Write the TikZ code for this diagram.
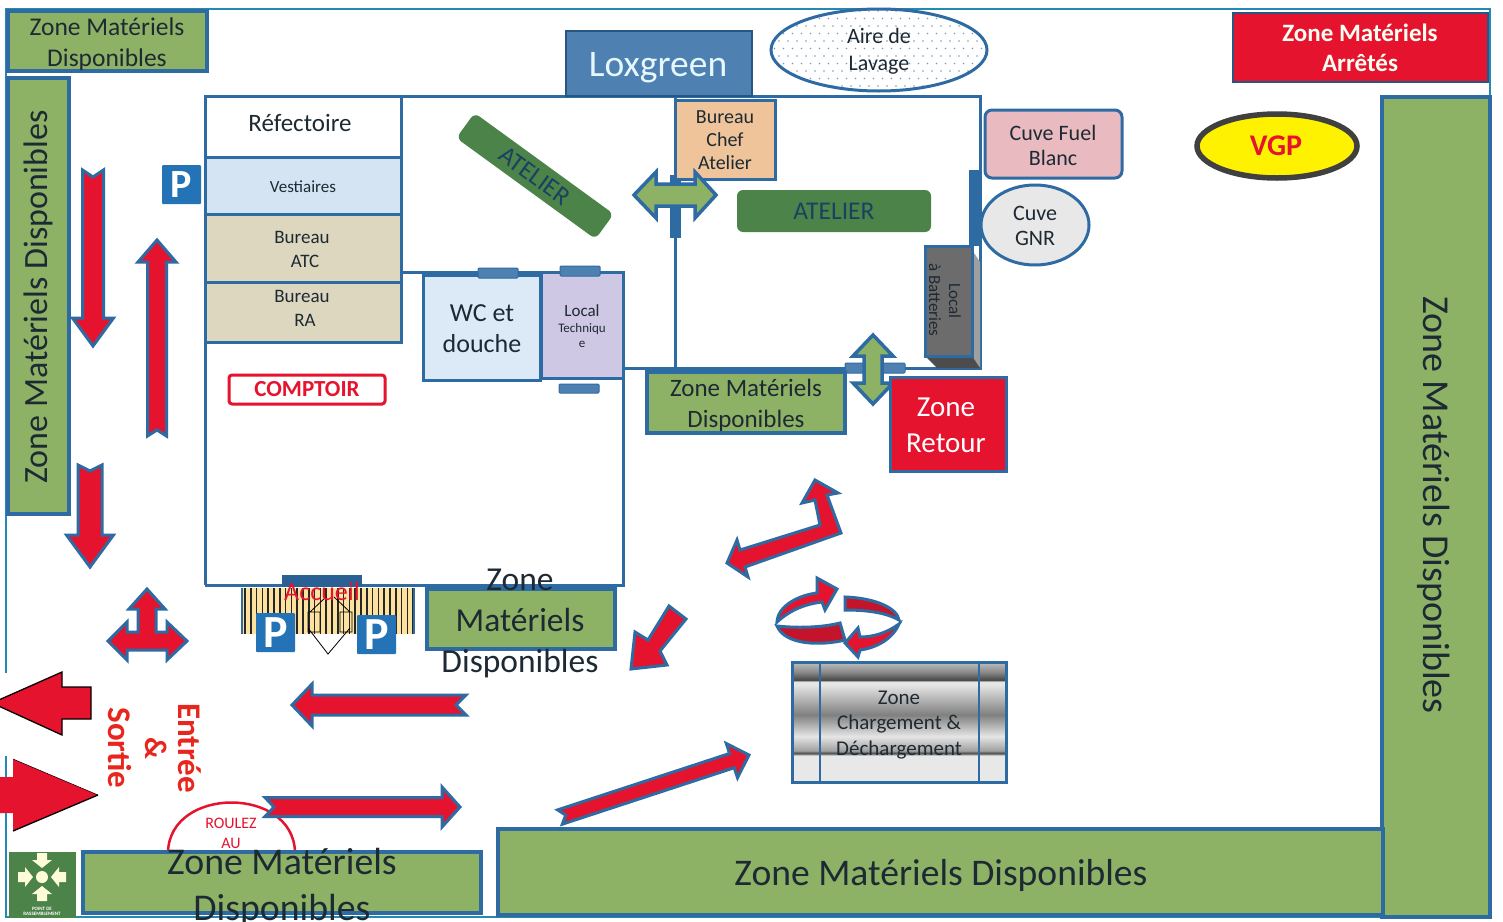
\documentclass[tikz,border=0pt]{standalone}
\usepackage{fontspec}
\setmainfont{Carlito}
\usetikzlibrary{calc}
\definecolor{bl}{HTML}{2F6BA3}
\definecolor{gz}{HTML}{8DB266}
\definecolor{dg}{HTML}{4C8349}
\definecolor{rd}{HTML}{E5132E}
\definecolor{drd}{HTML}{C4142B}
\definecolor{txt}{HTML}{1E2A33}
\definecolor{tan}{HTML}{DCD7BE}
\definecolor{vest}{HTML}{D5E4F3}
\definecolor{wcb}{HTML}{DCE9F7}
\definecolor{lav}{HTML}{CFC8E4}
\definecolor{chef}{HTML}{EFC49B}
\definecolor{pink}{HTML}{E9BBC0}
\definecolor{ent}{HTML}{E8261E}
\definecolor{pk}{HTML}{2373B6}
\newcommand{\fs}[1]{\fontsize{#1}{#1}\selectfont}
\pgfdeclareverticalshading{cargo}{100bp}{
 color(0bp)=(white!82!gray); color(36bp)=(white!82!gray); color(37bp)=(black!72);
 color(38bp)=(gray!75); color(44bp)=(white!80!gray); color(53bp)=(gray);
 color(65.5bp)=(white!80!gray); color(66.8bp)=(white!80!gray); color(67.5bp)=(black!72); color(71bp)=(gray!90); color(75bp)=(gray!50); color(100bp)=(gray!50)}
\tikzset{
 x=1pt,y=-1pt,
 every node/.style={outer sep=0pt},
 zone/.style={draw=bl,line width=3.5pt,fill=gz},
 wall/.style={draw=bl,line width=3pt},
 redarrow/.style={draw=bl,line width=3pt,fill=rd,line join=miter},
 grnarrow/.style={draw=bl,line width=3.5pt,fill=gz},
 bigarrow/.style={draw=black,line width=1.3pt,fill=rd},
 doorbar/.style={draw=bl,fill=bl!85!white,line width=1pt,rounded corners=1pt},
 lbl/.style={inner sep=0pt,align=center,text=txt},
}
% {x1,y1}{x2,y2}{shaft}{head}{headlen}{notch}
\newcommand{\blockarrow}[6]{%
 \path let \p1=(#1),\p2=(#2),\n1={atan2(\y2-\y1,\x2-\x1)},\n2={veclen(\x2-\x1,\y2-\y1)} in
  [redarrow,shift={(#1)},rotate=\n1]
  (0,#3/2) -- ({\n2-#5},#3/2) -- ({\n2-#5},#4/2) -- (\n2,0) -- ({\n2-#5},-#4/2) -- ({\n2-#5},-#3/2) -- (0,-#3/2) -- (#6,0) -- cycle;}
\newcommand{\parksign}[2]{%
 \node[fill=pk,rounded corners=1pt,text=white,font=\fs{#2}\bfseries,inner sep=0pt,minimum size=39pt,anchor=north west] at (#1) {P};}
\begin{document}
\begin{tikzpicture}
\useasboundingbox (0,0) rectangle (1503,921);
\fill[white] (0,0) rectangle (1503,921);
% frame
\draw[bl!80!cyan,line width=1.5pt] (6,673) -- (6,9) -- (1490,9) -- (1490,917) -- (6,917) -- (6,756);
% zones
\draw[zone] (8,11) rectangle (207,71);
\node[lbl,font=\fs{25.5}] (z1) at (107,27) {Zone Matériels};
\node[lbl,font=\fs{25.5}] (z1b) at (107,60) {Disponibles};
\draw[zone] (8,78) rectangle (69,514);
\node[lbl,font=\fs{34},rotate=90] (z2) at (38,297) {Zone Matériels Disponibles};
\draw[draw=bl!80!black,line width=2.5pt,fill=rd] (1233,13) rectangle (1488,82);
\node[lbl,font=\fs{25}\bfseries,text=white!95!yellow] (z3) at (1360,33) {Zone Matériels};
\node[lbl,font=\fs{25}\bfseries,text=white!95!yellow] (z3b) at (1360,63) {Arrêtés};
\draw[zone] (1382,97) rectangle (1490,917);
\node[lbl,font=\fs{38},rotate=-90] (z4) at (1434,505) {Zone Matériels Disponibles};
\draw[zone] (498,829) rectangle (1383,915);
\node[lbl,font=\fs{37.6}] (z5) at (941,875) {Zone Matériels Disponibles};
% roulez
\draw[rd,line width=2.5pt] (168,852) .. controls (170,786) and (293,786) .. (295,852);
\node[lbl,font=\fs{16},text=rd] (r1) at (231,823) {ROULEZ};
\node[lbl,font=\fs{16},text=rd] (r2) at (231,843) {AU};
\draw[zone] (83,852) rectangle (481,913);
\node[lbl,font=\fs{37.8}] (z6) at (282,862) {Zone Matériels};
\node[lbl,font=\fs{37.8}] (z7) at (282,910) {Disponibles};
% icon
\fill[dg] (9,852) rectangle (76,918);
\begin{scope}[shift={(42,877)}]
 \fill[white!85!yellow] (0,0) circle (6);
 \foreach \a in {0,90,180,270}{
  \fill[white!85!yellow,rotate=\a] (9,0) -- (17,-10) -- (17,-5) -- (24,-5) -- (24,5) -- (17,5) -- (17,10) -- cycle;}
\end{scope}
\node[lbl,font=\fs{5}\bfseries,text=white] (ic) at (42,911) {POINT DE\\RASSEMBLEMENT};
% building walls
\draw[wall] (205,96) -- (980,96) -- (980,368) -- (623,368);
\draw[wall] (400,272) -- (623,272) -- (623,585) -- (205,585);
\draw[wall] (205,96) -- (205,585);
\draw[wall] (675,96) -- (675,368);
\fill[bl] (670,175) rectangle (681,238);
\fill[bl] (969,170) rectangle (979,246);
% loxgreen and lavage
\node[draw=bl!80!black,line width=2.5pt,fill=bl!85!white,minimum width=186pt,minimum height=65pt,inner sep=0pt,anchor=north west] (lox) at (566,31) {};
\node[lbl,text=white!90!cyan,font=\fs{37.5}] (loxt) at (658,68) {Loxgreen};
\begin{scope}
 \clip (879,50) ellipse (108 and 41);
 \fill[white] (770,5) rectangle (990,95);
 \foreach \i in {0,...,24} \foreach \j in {0,...,11}
  \fill[bl!65!white] ({770+\i*9+mod(\j,2)*4.5},{11+\j*7.5}) circle (0.8);
\end{scope}
\draw[bl,line width=3pt] (879,50) ellipse (108 and 41);
\node[lbl,font=\fs{22}] (al) at (879,36) {Aire de};
\node[lbl,font=\fs{22}] (alb) at (879,65) {Lavage};
% left rooms
\tikzset{leftroom/.style={draw=bl,line width=3pt,minimum width=196pt,inner sep=0pt,anchor=north west}}
\node[leftroom,fill=white,minimum height=61pt] (refe) at (205,96) {};
\node[lbl,font=\fs{25}] (reft) at (300,123) {Réfectoire};
\node[leftroom,fill=vest,minimum height=57pt] (vestr) at (205,157) {};
\node[lbl,font=\fs{17}] (vestt) at (303,187) {Vestiaires};
\node[leftroom,fill=tan,minimum height=68pt] (atc) at (205,214) {};
\node[lbl,font=\fs{19}] (atc1) at (302,237) {Bureau};
\node[lbl,font=\fs{19}] (atc2) at (305,261) {ATC};
\node[leftroom,fill=tan,minimum height=60pt] (ra) at (205,282) {};
\node[lbl,font=\fs{19}] (ra1) at (302,296) {Bureau};
\node[lbl,font=\fs{19}] (ra2) at (305,320) {RA};
\node[draw=rd,line width=3pt,rounded corners=3pt,text=rd,font=\fs{23}\bfseries,minimum width=156pt,minimum height=29pt,inner sep=0pt,anchor=north west] (cpt) at (229,375) {COMPTOIR};
\parksign{162,165}{40}
% WC etc
\node[draw=bl,line width=3pt,fill=wcb,minimum width=117pt,minimum height=105pt,inner sep=0pt,anchor=north west] (wc) at (423,275) {};
\node[lbl,font=\fs{26}] (wc1) at (482,313) {WC et};
\node[lbl,font=\fs{26}] (wc2) at (482,344) {douche};
\node[draw=bl,line width=3pt,fill=lav,minimum width=82pt,minimum height=106pt,inner sep=0pt,anchor=north west] (lt) at (541,272) {};
\node[lbl,font=\fs{17}] (lt1) at (582,311) {Local};
\node[lbl,font=\fs{13}] (lt2) at (582,329) {Techniqu};
\node[lbl,font=\fs{13}] (lt3) at (582,344) {e};
\draw[doorbar] (478,268) rectangle (518,278);
\draw[doorbar] (560,266) rectangle (600,276);
\draw[doorbar] (559,384) rectangle (599,393);
% atelier
\node[fill=dg,rounded corners=6pt,minimum width=172pt,minimum height=31pt,rotate=-36,inner sep=0pt,font=\fs{25.5},text=bl!60!black] (at1) at (535,176) {ATELIER};
\node[draw=bl,line width=3pt,fill=chef,minimum width=100pt,minimum height=79pt,inner sep=0pt,anchor=north west] (bca) at (675,100) {};
\node[lbl,font=\fs{20}] (bc1) at (725,117) {Bureau};
\node[lbl,font=\fs{20}] (bc2) at (725,140) {Chef};
\node[lbl,font=\fs{20}] (bc3) at (725,163) {Atelier};
\node[fill=dg,rounded corners=6pt,minimum width=194pt,minimum height=42pt,inner sep=0pt,font=\fs{25.5},text=bl!60!black,anchor=north west] (at2) at (737,190) {ATELIER};
\path[grnarrow] (634,195) -- (656,172) -- (656,184) -- (695,184) -- (695,172) -- (716,195) -- (695,218) -- (695,206) -- (656,206) -- (656,218) -- cycle;
% batteries
\fill[gray!75] (972,250) -- (980,262) -- (980,368) -- (972,356) -- cycle;
\fill[gray!60!black] (925,356) -- (972,356) -- (980,368) -- (937,368) -- cycle;
\node[draw=bl,line width=3pt,fill=gray!85!black,minimum width=47pt,minimum height=110pt,inner sep=0pt,anchor=north west] (bat) at (925,246) {};
\node[lbl,rotate=-90,font=\fs{17}] (batt1) at (955,301) {Local};
\node[lbl,rotate=-90,font=\fs{17}] (batt2) at (935,300) {à Batteries};
% zone mid and retour
\draw[doorbar] (845,363) rectangle (905,373);
\draw[zone] (647,372) rectangle (845,433);
\node[lbl,font=\fs{25}] (z8) at (746,388) {Zone Matériels};
\node[lbl,font=\fs{25}] (z8b) at (746,421) {Disponibles};
\path[grnarrow] (873,335) -- (893,356) -- (882,356) -- (882,383) -- (893,383) -- (873,404) -- (853,383) -- (864,383) -- (864,356) -- (853,356) -- cycle;
\node[draw=bl,line width=3pt,fill=rd,minimum width=116pt,minimum height=94pt,inner sep=0pt,anchor=north west] (ret) at (890,377) {};
\node[lbl,font=\fs{29},text=white] (ret1) at (946,407) {Zone};
\node[lbl,font=\fs{29},text=white] (ret2) at (946,443) {Retour};
% cuves
\node[draw=bl,line width=3pt,fill=pink,rounded corners=7pt,minimum width=137pt,minimum height=68pt,inner sep=0pt,anchor=north west] (cf) at (985,110) {};
\node[lbl,font=\fs{22}] (cf1) at (1053,133) {Cuve Fuel};
\node[lbl,font=\fs{22}] (cf2) at (1053,158) {Blanc};
\draw[bl,line width=3pt,fill=gray!18!white] (1035,225) ellipse (54 and 40);
\node[lbl,font=\fs{22}] (gnr) at (1035,213) {Cuve};
\node[lbl,font=\fs{22}] (gnr2) at (1035,238) {GNR};
\draw[draw=gray!50!black,line width=5.5pt,fill=yellow] (1277,146) ellipse (80 and 32);
\node[lbl,font=\fs{30}\bfseries,text=rd] (vgp) at (1276,146) {VGP};
% left arrows
\blockarrow{93,170}{93,346}{21}{41}{28}{7}
\blockarrow{157,436}{157,240}{19}{38}{22}{6}
\blockarrow{90,465}{90,567}{24}{47}{32}{6}
\path[redarrow] (147,589) -- (165,609) -- (156,609) -- (156,632) -- (167,632) -- (167,622) -- (187,641) -- (167,660) -- (167,650) -- (127,650) -- (127,660) -- (108,641) -- (127,622) -- (127,632) -- (138,632) -- (138,609) -- (129,609) -- cycle;
% big arrows
\path[bigarrow] (-8,703) -- (62,672) -- (62,687) -- (91,687) -- (91,719) -- (62,719) -- (62,735) -- cycle;
\path[fill=rd] (-2,777) -- (13,777) -- (13,759) -- (98,795) -- (13,831) -- (13,813) -- (-2,813) -- cycle;
\draw[black,line width=1.3pt] (13,831) -- (98,795);
\draw[black,line width=.5pt] (13,759) -- (98,795);
\node[lbl,font=\fs{33}\bfseries,text=ent,rotate=-90] (e1) at (190,748) {Entrée};
\node[lbl,font=\fs{31}\bfseries,text=ent,rotate=-90] (e2) at (156,748) {\&};
\node[lbl,font=\fs{33}\bfseries,text=ent,rotate=-90] (e3) at (120,748) {Sortie};
\blockarrow{466,705}{292,705}{20}{42}{20}{10}
\blockarrow{265,807}{460,807}{19}{40}{18}{9}
\blockarrow{560,817}{749,755}{15}{36}{18}{6}
\path[redarrow] (669,606) -- (686,619) -- (660,651) -- (667,665) -- (631,669) -- (635,632) -- (648,640) -- cycle;
\path[redarrow] (727,563) -- (737,540) -- (740,550) -- (820,525) -- (815,500) -- (802,503) -- (815,480) -- (838,493) -- (827,495) -- (841,533) -- (745,567) -- (748,577) -- cycle;
% circular
\path[draw=bl,line width=3pt,fill=rd] (777,622) .. controls (778,605) and (800,595) .. (817,593) -- (817,578) -- (837,589) -- (825,610) -- (822,602) .. controls (805,604) and (790,610) .. (777,622) -- cycle;
\path[draw=bl,line width=3pt,fill=drd] (777,626) .. controls (795,628) and (820,628) .. (840,623) -- (845,640) .. controls (820,646) and (785,645) .. (777,626) -- cycle;
\path[draw=bl,line width=3pt,fill=drd] (845,597) .. controls (875,598) and (897,608) .. (899,620) .. controls (885,612) and (865,610) .. (845,610) -- cycle;
\path[draw=bl,line width=3pt,fill=rd] (899,624) .. controls (892,640) and (875,648) .. (860,650) -- (858,657) -- (845,643) -- (858,628) -- (860,637) .. controls (875,637) and (888,632) .. (899,624) -- cycle;
% chargement
\path[shading=cargo] (792,662) rectangle (1006,782);
\draw[bl,line width=3pt] (792,662) rectangle (1006,782);
\draw[bl,line width=2.5pt] (820,662) -- (820,782) (979,662) -- (979,782);
\node[lbl,font=\fs{21}] (zc1) at (899,698) {Zone};
\node[lbl,font=\fs{21}] (zc2) at (899,724) {Chargement \&};
\node[lbl,font=\fs{21}] (zc3) at (899,750) {Déchargement};
% accueil
\fill[yellow!40!orange!35!white] (242,588) rectangle (414,634);
\foreach \i in {0,...,29} \draw[black!85,line width=1.5pt] ({245+\i*5.8},588) -- ({245+\i*5.8},634);
\draw[bl,line width=2pt] (242,588) -- (242,634) (414,588) -- (414,634);
\fill[bl!90!black] (282,575) rectangle (362,587);
\draw[black,line width=.8pt] (308,628) -- (328,654) -- (350,628) (310,612) -- (326,597) (334,597) -- (350,612) (308,612) rectangle (320,632) (340,612) rectangle (352,632);
\node[lbl,font=\fs{26},text=rd] (acc) at (322,592) {Accueil};
\parksign{256,613}{46}
\parksign{357,615}{46}
% zone centre
\draw[zone] (427,589) rectangle (615,649);
\node[lbl,font=\fs{33.5}] (zm1) at (520,580) {Zone};
\node[lbl,font=\fs{33.5}] (zm2) at (520,620) {Matériels};
\node[lbl,font=\fs{33.5}] (zm3) at (520,664) {Disponibles};
\end{tikzpicture}
\end{document}
